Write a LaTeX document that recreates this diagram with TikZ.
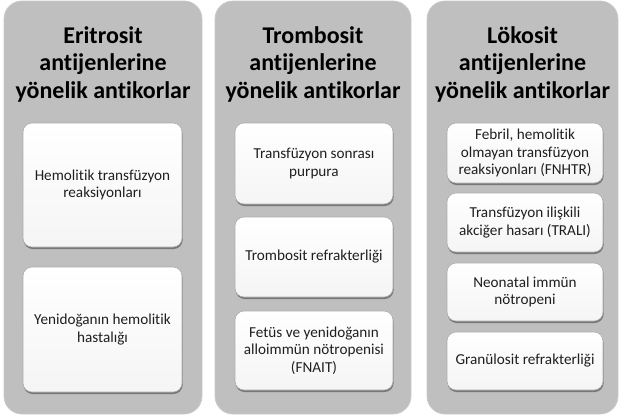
\documentclass[tikz,border=0pt]{standalone}
\usepackage{fontspec}
\setmainfont{Carlito}[Ligatures=NoCommon]
\usetikzlibrary{shadows}

\begin{document}
\begin{tikzpicture}[x=1pt,y=-1pt,line join=round,
  column/.style={draw=gray!42,line width=0.8pt,fill=gray!50,rounded corners=18pt,inner sep=0pt,minimum height=413pt},
  title/.style={align=center,font=\bfseries\fontsize{24}{27.5}\selectfont,text=black},
  item/.style={draw=gray!65,line width=0.6pt,rounded corners=9pt,top color=white,bottom color=gray!8,
    drop shadow={shadow xshift=0.6pt,shadow yshift=-2pt,fill=black!60,opacity=0.8},
    inner sep=0pt,align=center,font=\fontsize{15.2}{17.5}\selectfont,text=black!88}]
  \useasboundingbox (0,0) rectangle (620,418);
  \node[column,minimum width=198pt] (C1) at (103.0,207.5) {};
  \node[column,minimum width=196pt] (C2) at (313.0,207.5) {};
  \node[column,minimum width=191pt] (C3) at (522.5,207.5) {};
  \node[title] (T1) at (103.0,64) {Eritrosit\\antijenlerine\\yönelik antikorlar};
  \node[title] (T2) at (313.0,64) {Trombosit\\antijenlerine\\yönelik antikorlar};
  \node[title] (T3) at (522.5,64) {Lökosit\\antijenlerine\\yönelik antikorlar};
  \node[item,minimum width=159pt,minimum height=124pt] (B11) at (102.5,185.0) {Hemolitik transfüzyon\\reaksiyonları};
  \node[item,minimum width=159pt,minimum height=125pt] (B12) at (102.5,329.5) {Yenidoğanın hemolitik\\hastalığı};
  \node[item,minimum width=158pt,minimum height=81pt] (B21) at (314.0,163.5) {Transfüzyon sonrası\\purpura};
  \node[item,minimum width=158pt,minimum height=80pt] (B22) at (314.0,257.0) {Trombosit refrakterliği};
  \node[item,minimum width=158pt,minimum height=79pt] (B23) at (314.0,350.5) {Fetüs ve yenidoğanın\\alloimmün nötropenisi\\(FNAIT)};
  \node[item,minimum width=156pt,minimum height=60pt] (B31) at (525.0,153.0) {Febril, hemolitik\\olmayan transfüzyon\\reaksiyonları (FNHTR)};
  \node[item,minimum width=156pt,minimum height=59pt] (B32) at (525.0,222.5) {Transfüzyon ilişkili\\akciğer hasarı (TRALI)};
  \node[item,minimum width=156pt,minimum height=58pt] (B33) at (525.0,292.0) {Neonatal immün\\nötropeni};
  \node[item,minimum width=156pt,minimum height=58pt] (B34) at (525.0,361.0) {Granülosit refrakterliği};
\end{tikzpicture}
\end{document}
